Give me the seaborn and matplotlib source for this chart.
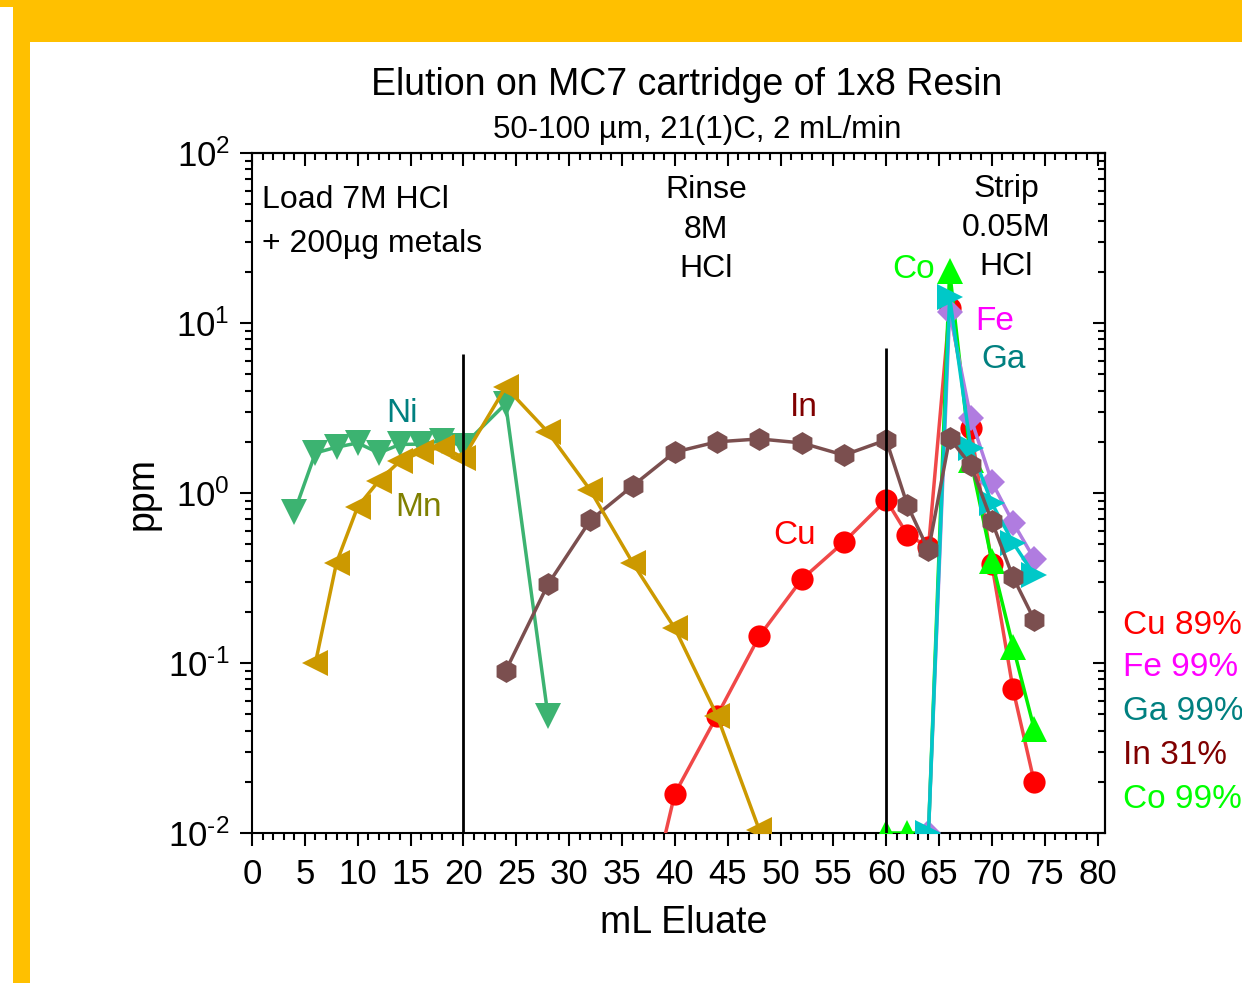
import matplotlib
matplotlib.use("Agg")
import matplotlib.pyplot as plt
from matplotlib.patches import Rectangle
from matplotlib.ticker import MultipleLocator, FixedLocator, FixedFormatter
import seaborn as sns

plt.rcParams['font.family'] = ['Liberation Sans', 'DejaVu Sans']
plt.rcParams['mathtext.fontset'] = 'custom'
plt.rcParams['mathtext.rm'] = 'Liberation Sans'
plt.rcParams['mathtext.it'] = 'Liberation Sans:italic'
plt.rcParams['mathtext.bf'] = 'Liberation Sans:bold'
plt.rcParams['axes.unicode_minus'] = False

# ---------------- data ----------------
ni_x = [4, 6, 8, 10, 12, 14, 16, 18, 20, 24, 28]
ni_y = [0.77, 1.72, 1.86, 1.97, 1.72, 1.93, 1.94, 2.03, 1.90, 3.35, 0.049]

mn_x = [6, 8, 10, 12, 14, 16, 18, 20, 24, 28, 32, 36, 40, 44, 48]
mn_y = [0.10, 0.39, 0.83, 1.18, 1.54, 1.74, 1.87, 1.61, 4.2, 2.28, 1.04, 0.39, 0.16, 0.049, 0.0104]

cu_x = [36, 40, 44, 48, 52, 56, 60, 62, 64, 66, 68, 70, 72, 74]
cu_y = [0.0015, 0.017, 0.049, 0.144, 0.31, 0.515, 0.91, 0.57, 0.48, 12.3, 2.4, 0.38, 0.07, 0.02]

co_x = [60, 62, 64, 66, 68, 70, 72, 74]
co_y = [0.01, 0.01, 0.01, 20.2, 1.56, 0.40, 0.125, 0.041]

fe_x = [64, 66, 68, 70, 72, 74]
fe_y = [0.01, 11.6, 2.76, 1.16, 0.67, 0.41]

ga_x = [64, 66, 68, 70, 72, 74]
ga_y = [0.01, 14.2, 1.84, 0.87, 0.51, 0.33]

in_x = [24, 28, 32, 36, 40, 44, 48, 52, 56, 60, 62, 64, 66, 68, 70, 72, 74]
in_y = [0.09, 0.29, 0.69, 1.10, 1.74, 2.0, 2.08, 1.97, 1.67, 2.05, 0.85, 0.46, 2.1, 1.46, 0.68, 0.32, 0.18]

phase_x = [20, 60]
phase_top = [6.6, 7.1]

recovery_labels = ["Cu 89%", "Fe 99%", "Ga 99%", "In 31%", "Co 99%"]
recovery_colors = ["#ff0000", "#ff00ff", "#008080", "#800000", "#00ff00"]

x_ticks = list(range(0, 81, 5))
y_ticks = [0.01, 0.1, 1, 10, 100]
y_exponents = ["\u20102", "\u20101", "0", "1", "2"]

# ---------------- figure ----------------
W, H = 1242, 983
DY = 3  # vertical text offset (px)
fig = plt.figure(figsize=(W / 100, H / 100), dpi=100, facecolor='white')
orange = '#FFC000'
fig.patches.append(Rectangle((0, 1 - 7 / H), 1, 7 / H, transform=fig.transFigure,
                             facecolor=orange, edgecolor='none', zorder=-10))
fig.patches.append(Rectangle((13 / W, 1 - 42 / H), 1 - 13 / W, 42 / H, transform=fig.transFigure,
                             facecolor=orange, edgecolor='none', zorder=-10))
fig.patches.append(Rectangle((13 / W, 0), 17 / W, 1, transform=fig.transFigure,
                             facecolor=orange, edgecolor='none', zorder=-10))

ax_l, ax_r, ax_t, ax_b = 252, 1105, 153, 833
ax = fig.add_axes([ax_l / W, 1 - ax_b / H, (ax_r - ax_l) / W, (ax_b - ax_t) / H])
ax.set_facecolor('white')

lw = 2.5
common = dict(ax=ax, sort=False, linewidth=lw, markeredgewidth=0, legend=False)

sns.lineplot(x=ni_x, y=ni_y, color='#3cb371', marker='v', markersize=18.5,
             markerfacecolor='#3cb371', zorder=3, **common)
sns.lineplot(x=cu_x, y=cu_y, color='#f04848', marker='o', markersize=16,
             markerfacecolor='#ff0000', zorder=4, **common)
sns.lineplot(x=co_x, y=co_y, color='#00f000', marker='^', markersize=18.5,
             markerfacecolor='#00ff00', zorder=5, **common)
sns.lineplot(x=fe_x, y=fe_y, color='#b07ce0', marker='D', markersize=13.5,
             markerfacecolor='#b07ce0', zorder=6, **common)
sns.lineplot(x=ga_x, y=ga_y, color='#00c8c8', marker='>', markersize=18.5,
             markerfacecolor='#00c8c8', zorder=7, **common)
sns.lineplot(x=in_x, y=in_y, color='#7b4f4f', marker='h', markersize=16.5,
             markerfacecolor='#7b4f4f', zorder=8, **common)
sns.lineplot(x=mn_x, y=mn_y, color='#cc9900', marker='<', markersize=18.5,
             markerfacecolor='#cc9900', zorder=9, **common)

ax.set_yscale('log')
ax.set_xlim(0, 80.7)
ax.set_ylim(0.01, 100)

ax.vlines(phase_x, 0.01, phase_top, colors='black', linewidth=2, zorder=10)

# ticks
ax.xaxis.set_major_locator(MultipleLocator(5))
ax.xaxis.set_minor_locator(MultipleLocator(1))
ax.set_xticks(x_ticks)
ax.yaxis.set_major_locator(FixedLocator(y_ticks))
ax.yaxis.set_major_formatter(FixedFormatter(["10$^{" + e + "}$" for e in y_exponents]))
ax.tick_params(axis='both', which='major', direction='out', length=9, width=1.5,
               labelsize=25, top=False, right=False)
ax.tick_params(axis='both', which='minor', direction='out', length=5, width=1.5,
               top=False, right=False)
ax.tick_params(axis='x', which='major', pad=9)
ax.tick_params(axis='y', which='major', pad=7)
for s in ax.spines.values():
    s.set_linewidth(1.5)
    s.set_color('black')

secx = ax.secondary_xaxis('top')
secx.xaxis.set_major_locator(MultipleLocator(5))
secx.xaxis.set_minor_locator(MultipleLocator(1))
secx.tick_params(axis='x', which='major', direction='in', length=9, width=1.5, labeltop=False)
secx.tick_params(axis='x', which='minor', direction='in', length=5, width=1.5)
secy = ax.secondary_yaxis('right')
secy.tick_params(axis='y', which='major', direction='in', length=9, width=1.5, labelright=False)
secy.tick_params(axis='y', which='minor', direction='in', length=5, width=1.5)
for sa in (secx, secy):
    for s in sa.spines.values():
        s.set_linewidth(1.5)

ax.set_xlabel('')
ax.set_ylabel('')
fig.text(684 / W, 1 - (920 + DY) / H, 'mL Eluate', ha='center', va='center', fontsize=27)
fig.text(143 / W, 1 - 493 / H, 'ppm', ha='center', va='center', fontsize=27, rotation=90)

# titles
fig.text(687 / W, 1 - (82 + DY) / H, 'Elution on MC7 cartridge of 1x8 Resin',
         ha='center', va='center', fontsize=27)
fig.text(697 / W, 1 - (127 + DY) / H, '50-100 \u00b5m, 21(1)C, 2 mL/min',
         ha='center', va='center', fontsize=22.5)


def axpos(px, py):
    return (px - ax_l) / (ax_r - ax_l), (ax_b - py) / (ax_b - ax_t)


def atext(px, py, s, color='black', size=23, ha='center'):
    x, y = axpos(px, py + DY)
    ax.text(x, y, s, transform=ax.transAxes, ha=ha, va='center',
            fontsize=size, color=color, zorder=12)


atext(262, 197, 'Load 7M HCl', ha='left')
atext(262, 241, '+ 200\u00b5g metals', ha='left')
atext(706, 187, 'Rinse')
atext(706, 227, '8M')
atext(706, 266, 'HCl')
atext(1006, 186, 'Strip')
atext(1006, 225, '0.05M')
atext(1006, 264, 'HCl')

atext(402, 410, 'Ni', color='#008080', size=24)
atext(418, 505, 'Mn', color='#808000', size=24)
atext(804, 405, 'In', color='#800000', size=24)
atext(795, 532, 'Cu', color='#ff0000', size=24)
atext(914, 267, 'Co', color='#00ff00', size=24)
atext(995, 318, 'Fe', color='#ff00ff', size=24)
atext(1004, 357, 'Ga', color='#008080', size=24)

label_y = [622, 665, 709, 753, 797]
for s, c, py in zip(recovery_labels, recovery_colors, label_y):
    fig.text(1123 / W, 1 - (py + DY) / H, s, color=c, fontsize=24, ha='left', va='center')

fig.savefig('out.png', dpi=100)
